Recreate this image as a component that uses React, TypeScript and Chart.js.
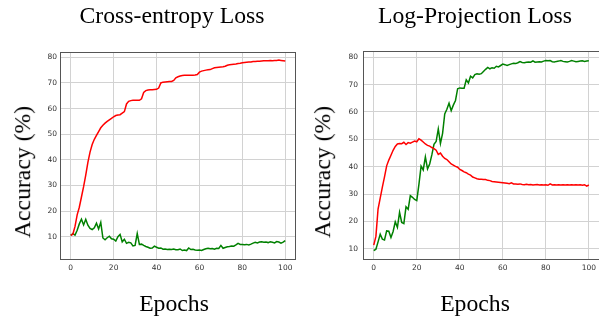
import React, { useEffect, useRef } from "react";
import { Chart, registerables } from "chart.js";

Chart.register(...registerables);

const epochs = Array.from({ length: 101 }, (_, i) => i);
const xTickValues = [0, 20, 40, 60, 80, 100];
const yTickValues = [10, 20, 30, 40, 50, 60, 70, 80];

const ceRed = [
  10.5, 11.0, 14.0, 18.5, 21.5, 25.5, 29.5, 34, 39, 43,
  46, 48, 49.5, 51, 52.5, 53.5, 54.3, 55, 55.6, 56.2,
  56.8, 57.3, 57.5, 57.6, 58.2, 58.8, 61.8, 62.8, 63.1, 63.2,
  63.2, 63.2, 63.2, 63.8, 66.3, 67.0, 67.2, 67.3, 67.3, 67.4,
  67.5, 68.0, 70.0, 70.3, 70.4, 70.5, 70.6, 70.6, 71.0, 72.0,
  72.4, 72.7, 72.9, 73.0, 73.0, 73.0, 73.0, 73.0, 73.1, 73.3,
  74.2, 74.6, 74.8, 75.0, 75.1, 75.2, 75.6, 75.9, 76.0, 76.1,
  76.2, 76.3, 76.5, 76.9, 77.1, 77.2, 77.3, 77.4, 77.6, 77.7,
  77.9, 78.0, 78.1, 78.2, 78.2, 78.4, 78.4, 78.5, 78.5, 78.6,
  78.7, 78.7, 78.7, 78.8, 78.7, 78.8, 78.8, 78.9, 78.8, 78.7,
  78.6,
];

const ceGreen = [
  10.5, 11.2, 10.6, 12.5, 15.0, 16.8, 14.6, 16.8, 14.5, 13.2,
  12.8, 13.5, 15.3, 13.0, 15.6, 9.5, 8.8, 9.6, 10.2, 9.2,
  9.0, 8.3, 10.0, 10.9, 8.0, 9.0, 7.4, 7.8, 7.6, 6.4,
  6.6, 11.2, 7.0, 7.1, 6.6, 6.2, 5.9, 5.5, 5.6, 6.3,
  5.9, 5.5, 5.6, 5.1, 5.2, 5.0, 5.1, 5.0, 5.2, 4.9,
  4.9, 5.2, 4.6, 4.8, 4.6, 5.6, 5.0, 5.1, 4.8, 4.7,
  4.8, 4.6, 5.0, 5.3, 5.5, 5.3, 5.4, 5.1, 5.5, 5.4,
  6.6, 5.5, 5.8, 6.1, 6.2, 6.4, 6.3, 6.8, 7.4, 7.0,
  7.0, 6.9, 7.0, 6.8, 7.1, 7.5, 7.8, 7.6, 7.9, 8.0,
  7.8, 7.9, 7.7, 8.0, 7.8, 7.6, 8.1, 7.9, 7.5, 7.9,
  8.5,
];

const lpRed = [
  11.3, 14.5, 24.5, 28.5, 32.5, 36.3, 40.3, 42.4, 44.2, 46.0,
  47.4, 48.3, 48.5, 48.4, 48.9, 48.1, 48.8, 48.6, 49.0, 49.4,
  49.1, 50.2, 49.7, 49.0, 48.3, 47.8, 47.5, 47.0, 46.6, 46.0,
  44.5, 45.0, 43.8, 43.0, 42.6, 41.8, 41.0, 40.6, 40.1, 39.8,
  39.0, 38.6, 38.1, 37.8, 37.3, 36.9, 36.2, 35.9, 35.6, 35.4,
  35.4, 35.3, 35.3, 35.0, 34.9, 34.6, 34.5, 34.4, 34.3, 34.2,
  34.1, 34.0, 33.9, 33.8, 34.1, 33.7, 33.7, 33.6, 33.7, 33.5,
  33.4, 33.6, 33.4, 33.5, 33.3, 33.4, 33.5, 33.3, 33.4, 33.3,
  33.4, 33.2, 33.7, 33.3, 33.4, 33.3, 33.4, 33.3, 33.4, 33.3,
  33.4, 33.3, 33.4, 33.3, 33.4, 33.3, 33.4, 33.2, 33.4, 32.9,
  33.3,
];

const lpGreen = [
  9.3, 9.8, 12.5, 15.3, 13.5, 13.2, 16.5, 16.4, 14.1, 16.3,
  19.8, 17.8, 23.3, 19.6, 19.2, 25.3, 24.4, 29.4, 28.8, 28.0,
  27.6, 33.5, 40.2, 38.8, 43.6, 39.2, 41.0, 44.3, 48.2, 49.2,
  53.8, 48.5, 52.2, 59.3, 61.0, 63.2, 60.5, 62.5, 64.2, 68.5,
  68.8, 68.7, 68.7, 71.8, 70.6, 73.1, 72.5, 73.7, 74.0, 73.8,
  74.0, 74.8, 75.6, 76.3, 75.8, 76.2, 76.0, 76.7, 76.5, 77.0,
  77.5, 77.3, 77.0, 77.3, 77.6, 77.8, 77.7, 78.0, 78.4, 78.1,
  78.0, 78.2, 78.3, 78.2, 78.7, 78.2, 78.3, 78.4, 78.3, 78.6,
  78.8, 78.7, 78.8, 78.4, 78.3, 78.5, 78.6, 78.8, 78.5, 78.4,
  78.3, 78.5, 78.8, 78.6, 78.4, 78.5, 78.6, 78.7, 78.5, 78.6,
  78.7,
];

const framePlugin = {
  id: "frame",
  afterDatasetsDraw(chart: any) {
    const { ctx, chartArea } = chart;
    const l = Math.round(chartArea.left) + 0.5;
    const t = Math.round(chartArea.top) + 0.5;
    const r = Math.round(chartArea.right) - 0.5;
    const b = Math.round(chartArea.bottom) - 0.5;
    ctx.save();
    ctx.strokeStyle = "#555";
    ctx.lineWidth = 1;
    ctx.strokeRect(l, t, r - l, b - t);
    ctx.restore();
  },
};

type PanelProps = {
  red: number[];
  green: number[];
  yMin: number;
  yMax: number;
  yAxisWidth: number;
  padTop: number;
  padRight: number;
  tickPad: number;
};

function Panel({ red, green, yMin, yMax, yAxisWidth, padTop, padRight, tickPad }: PanelProps) {
  const ref = useRef<HTMLCanvasElement | null>(null);
  useEffect(() => {
    if (!ref.current) return;
    const tickFont = { family: "DejaVu Sans", size: 7.5 };
    const chart = new Chart(ref.current, {
      type: "line",
      data: {
        labels: epochs,
        datasets: [
          {
            data: red,
            borderColor: "#ff0000",
            borderWidth: 1.5,
            pointRadius: 0,
            tension: 0,
            fill: false,
          },
          {
            data: green,
            borderColor: "#008000",
            borderWidth: 1.5,
            pointRadius: 0,
            tension: 0,
            fill: false,
          },
        ],
      },
      options: {
        animation: false,
        responsive: false,
        devicePixelRatio: 1,
        layout: { padding: { left: 0, top: padTop, right: padRight, bottom: 0 } },
        plugins: { legend: { display: false }, tooltip: { enabled: false }, title: { display: false } },
        scales: {
          x: {
            type: "linear",
            min: -5,
            max: 105,
            afterBuildTicks: (s: any) => {
              s.ticks = xTickValues.map((v) => ({ value: v }));
            },
            afterFit: (s: any) => {
              s.height = 58;
            },
            ticks: {
              autoSkip: false,
              maxRotation: 0,
              padding: 4,
              color: "#333",
              font: tickFont,
            },
            grid: { color: "#d2d2d2", lineWidth: 1, drawTicks: false, tickLength: 0 },
            border: { display: false },
          },
          y: {
            type: "linear",
            min: yMin,
            max: yMax,
            afterBuildTicks: (s: any) => {
              s.ticks = yTickValues.map((v) => ({ value: v }));
            },
            afterFit: (s: any) => {
              s.width = yAxisWidth;
            },
            ticks: {
              autoSkip: false,
              padding: tickPad,
              color: "#333",
              font: tickFont,
            },
            grid: { color: "#d2d2d2", lineWidth: 1, drawTicks: false, tickLength: 0 },
            border: { display: false },
          },
        },
      },
      plugins: [framePlugin],
    } as any);
    return () => chart.destroy();
  }, [red, green, yMin, yMax, yAxisWidth, padTop, padRight, tickPad]);
  return <canvas ref={ref} width={300} height={318} style={{ display: "block" }} />;
}

const serif = "'Liberation Serif', 'Times New Roman', serif";
const bigSize = 23.7;

function Label({ text, cx, top }: { text: string; cx: number; top: number }) {
  return (
    <div
      style={{
        position: "absolute",
        left: cx - 150,
        top,
        width: 300,
        textAlign: "center",
        fontFamily: serif,
        fontSize: bigSize,
        lineHeight: 1,
        whiteSpace: "nowrap",
        color: "#000",
      }}
    >
      {text}
    </div>
  );
}

function VLabel({ text, cx, cy }: { text: string; cx: number; cy: number }) {
  return (
    <div
      style={{
        position: "absolute",
        left: cx,
        top: cy,
        transform: "translate(-50%, -50%) rotate(-90deg)",
        fontFamily: serif,
        fontSize: bigSize,
        lineHeight: 1,
        whiteSpace: "nowrap",
        color: "#000",
      }}
    >
      {text}
    </div>
  );
}

export default function App() {
  return (
    <div
      style={{
        position: "fixed",
        left: 0,
        top: 0,
        width: 599,
        height: 318,
        overflow: "hidden",
        background: "#fff",
      }}
    >
      <div style={{ position: "absolute", left: 0, top: 0, width: 300, height: 318 }}>
        <Panel red={ceRed} green={ceGreen} yMin={0.91} yMax={82.07} yAxisWidth={60} padTop={52} padRight={4} tickPad={3} />
      </div>
      <div style={{ position: "absolute", left: 300, top: 0, width: 300, height: 318 }}>
        <Panel red={lpRed} green={lpGreen} yMin={5.87} yMax={82.3} yAxisWidth={63} padTop={51} padRight={0} tickPad={5} />
      </div>
      <Label text="Cross-entropy Loss" cx={172} top={4} />
      <Label text="Log-Projection Loss" cx={475} top={4} />
      <Label text="Epochs" cx={174} top={292} />
      <Label text="Epochs" cx={475} top={292} />
      <VLabel text="Accuracy (%)" cx={23} cy={172} />
      <VLabel text="Accuracy (%)" cx={323} cy={172} />
    </div>
  );
}
